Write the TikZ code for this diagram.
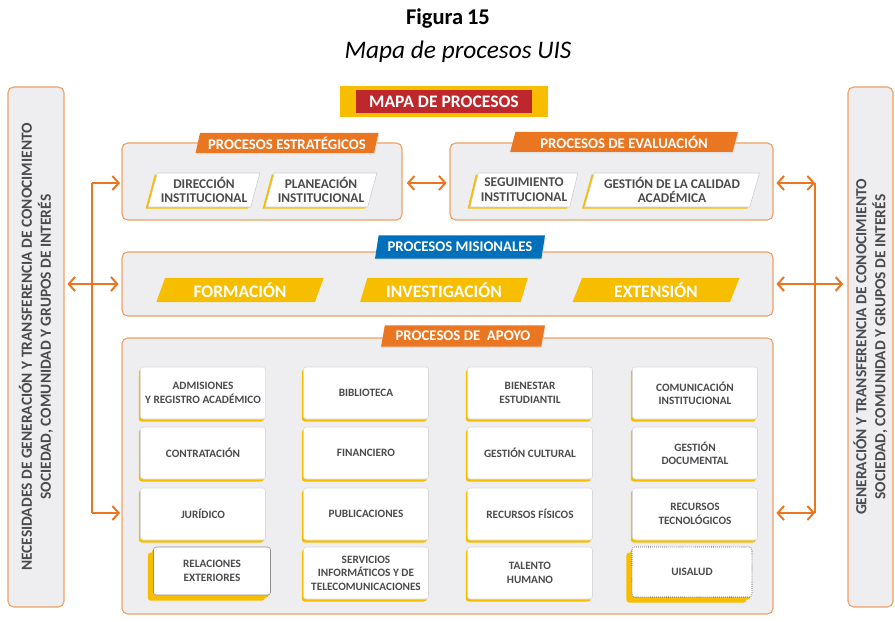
\documentclass[tikz,border=0pt]{standalone}
\usepackage{fontspec}
\setmainfont{Carlito}
\usepackage{tikz}
\usetikzlibrary{shapes,arrows.meta,positioning,calc,fit,shadows}
\definecolor{uisorange}{RGB}{234,118,34}
\definecolor{uisframe}{RGB}{238,160,100}
\definecolor{uisyellow}{RGB}{247,190,0}
\definecolor{uisred}{RGB}{190,40,45}
\definecolor{uisblue}{RGB}{0,112,186}
\definecolor{uisgrey}{RGB}{238,238,240}
\definecolor{uistext}{RGB}{75,75,78}

\begin{document}
\begin{tikzpicture}[x=0.025cm,y=-0.025cm,
    grupo/.style={draw=uisframe,fill=uisgrey,rounded corners=4pt,line width=0.8pt,inner sep=0pt},
    pestana/.style={trapezium,trapezium left angle=72,trapezium right angle=108,trapezium stretches=true,
        fill=uisorange,text=white,inner sep=0pt,minimum height=0.5cm,
        font=\bfseries\fontsize{10.5}{11}\selectfont,
        general shadow={fill=black!12,shadow xshift=0.6pt,shadow yshift=-1pt}},
    proceso/.style={trapezium,trapezium left angle=72,trapezium right angle=108,trapezium stretches=true,
        fill=white,draw=black!20,inner sep=0pt,minimum height=0.85cm,align=center,text=uistext,
        font=\bfseries\fontsize{9.5}{10.5}\selectfont,
        general shadow={fill=uisyellow,shadow xshift=-1.8pt,shadow yshift=-1.2pt}},
    misional/.style={trapezium,trapezium left angle=70,trapezium right angle=110,trapezium stretches=true,
        fill=uisyellow,text=white,inner sep=0pt,minimum width=4.2cm,minimum height=0.6cm,
        font=\bfseries\fontsize{12.5}{13}\selectfont},
    caja/.style={rectangle,rounded corners=2pt,fill=white,draw=black!15,minimum width=3.125cm,
        minimum height=1.3cm,align=center,text=uistext,font=\bfseries\fontsize{8}{9.5}\selectfont,
        general shadow={fill=uisyellow,shadow xshift=-1.2pt,shadow yshift=-1.8pt}},
    lateral/.style={rotate=90,align=center,text=uistext,font=\bfseries\fontsize{11}{13.5}\selectfont},
    flecha/.style={draw=uisorange,line width=1.4pt,>={Straight Barb[length=4.5pt,width=10pt]}}]
    \useasboundingbox (0,0) rectangle (895,622);

    % Title
    \node[font=\bfseries\fontsize{16}{18}\selectfont] (figura) at (448,19) {Figura\,15};
    \node[font=\itshape\fontsize{18}{20}\selectfont] (subtitulo) at (458,52) {Mapa de procesos UIS};

    % Side bars
    \node[grupo,fit={(8,87) (64,607)}] (necesidades) {};
    \node[lateral] (necesidadestxt) at (necesidades.center)
        {NECESIDADES DE GENERACIÓN Y TRANSFERENCIA DE CONOCIMIENTO\\SOCIEDAD, COMUNIDAD Y GRUPOS DE INTERÉS};
    \node[grupo,fit={(848,87) (893,607)}] (generacion) {};
    \node[lateral] (generaciontxt) at (generacion.center)
        {GENERACIÓN Y TRANSFERENCIA DE CONOCIMIENTO\\SOCIEDAD, COMUNIDAD Y GRUPOS DE INTERÉS};

    % Map banner
    \node[fill=uisyellow,inner sep=0pt,fit={(340,86) (548,117)}] (mapamarco) {};
    \node[fill=uisred,text=white,minimum width=4.4cm,minimum height=0.575cm,
        font=\bfseries\fontsize{12.5}{13}\selectfont] (mapa) at (mapamarco.center) {MAPA DE PROCESOS};

    % Strategic and evaluation processes
    \node[grupo,fit={(122,143) (402,220)}] (estrategicos) {};
    \node[grupo,fit={(450,143) (773,220)}] (evaluacion) {};
    \node[pestana,minimum width=4.575cm] (tabestr) at (287,143) {PROCESOS ESTRATÉGICOS};
    \node[pestana,minimum width=5.7cm] (tabeval) at (624,142) {PROCESOS DE EVALUACIÓN};
    \node[proceso,minimum width=2.8cm] (direccion) at (204,190) {DIRECCIÓN\\INSTITUCIONAL};
    \node[proceso,minimum width=2.8cm] (planeacion) at (321,190) {PLANEACIÓN\\INSTITUCIONAL};
    \node[proceso,minimum width=2.7cm] (seguimiento) at (524,190) {SEGUIMIENTO\\INSTITUCIONAL};
    \node[proceso,minimum width=4.375cm] (calidad) at (672,190) {GESTIÓN DE LA CALIDAD\\ACADÉMICA};

    % Missional processes
    \node[grupo,fit={(122,252) (773,316)}] (misionales) {};
    \node[pestana,fill=uisblue,minimum width=4.25cm,minimum height=0.575cm] (tabmis) at (460,247) {PROCESOS MISIONALES};
    \node[misional] (formacion) at (240,290) {FORMACIÓN};
    \node[misional] (investigacion) at (444,290) {INVESTIGACIÓN};
    \node[misional] (extension) at (656,290) {EXTENSIÓN};

    % Support processes
    \node[grupo,fit={(122,338) (773,614)}] (apoyo) {};
    \node[pestana,minimum width=4.125cm,minimum height=0.525cm] (tabapoyo) at (463,336) {PROCESOS DE\ \ APOYO};
    \node[caja] (admisiones) at (203,393) {ADMISIONES\\Y REGISTRO ACADÉMICO};
    \node[caja] (biblioteca) at (366,393) {BIBLIOTECA};
    \node[caja] (bienestar) at (530,393) {BIENESTAR\\ESTUDIANTIL};
    \node[caja] (comunicacion) at (695,393) {COMUNICACIÓN\\INSTITUCIONAL};
    \node[caja] (contratacion) at (203,453) {CONTRATACIÓN};
    \node[caja] (financiero) at (366,453) {FINANCIERO};
    \node[caja] (cultural) at (530,453) {GESTIÓN CULTURAL};
    \node[caja] (documental) at (695,453) {GESTIÓN\\DOCUMENTAL};
    \node[caja] (juridico) at (203,514) {JURÍDICO};
    \node[caja] (publicaciones) at (366,514) {PUBLICACIONES};
    \node[caja] (fisicos) at (530,514) {RECURSOS FÍSICOS};
    \node[caja] (tecnologicos) at (695,514) {RECURSOS\\TECNOLÓGICOS};
    \node[caja,minimum width=2.925cm,minimum height=1.2cm,draw=black!45,
        general shadow={fill=uisyellow,shadow xshift=-4pt,shadow yshift=-4pt}] (relaciones) at (212,571) {RELACIONES\\EXTERIORES};
    \node[caja] (servicios) at (366,573) {SERVICIOS\\INFORMÁTICOS Y DE\\TELECOMUNICACIONES};
    \node[caja] (talento) at (530,573) {TALENTO\\HUMANO};
    \node[caja,minimum width=3cm,minimum height=1.25cm,draw=black,densely dotted,
        general shadow={fill=uisyellow,shadow xshift=-4pt,shadow yshift=-4pt}] (uisalud) at (692,572) {UISALUD};

    % Connectors
    \coordinate (izqsup) at (92,183);
    \coordinate (izqinf) at (92,513);
    \coordinate (dersup) at (815,183);
    \coordinate (derinf) at (815,513);
    \draw[flecha] (izqsup) -- (izqinf);
    \draw[flecha,->,shorten >=1pt] (izqsup) -- (izqsup -| estrategicos.west);
    \draw[flecha,<->,shorten <=2pt,shorten >=2pt] (necesidades.east |- misionales.west) -- (misionales.west);
    \draw[flecha,->,shorten >=1pt] (izqinf) -- (izqinf -| apoyo.west);
    \draw[flecha] (dersup) -- (derinf);
    \draw[flecha,<->,shorten <=2pt] (evaluacion.east |- dersup) -- (dersup);
    \draw[flecha,<->,shorten <=2pt,shorten >=3pt] (misionales.east) -- (generacion.west |- misionales.east);
    \draw[flecha,<->,shorten <=2pt] (apoyo.east |- derinf) -- (derinf);
    \draw[flecha,<->,shorten <=3pt,shorten >=2pt] (estrategicos.east |- izqsup) -- (evaluacion.west |- izqsup);
\end{tikzpicture}
\end{document}
